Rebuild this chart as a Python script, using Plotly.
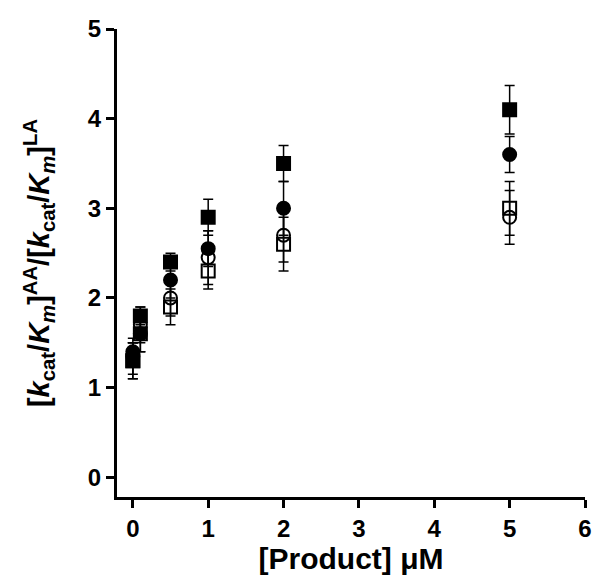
import plotly.graph_objects as go

# [Product] concentrations (uM)
product = [0, 0.1, 0.5, 1, 2, 5]

# four series
sq_filled = [1.3, 1.8, 2.4, 2.9, 3.5, 4.1]
sq_filled_err = [0.2, 0.1, 0.1, 0.2, 0.2, 0.27]
circ_filled = [1.4, 1.6, 2.2, 2.55, 3.0, 3.6]
circ_filled_err = [0.1, 0.2, 0.2, 0.2, 0.3, 0.2]
circ_open = [1.35, 1.7, 2.0, 2.45, 2.7, 2.9]
circ_open_err = [0.2, 0.2, 0.2, 0.3, 0.3, 0.3]
sq_open = [1.3, 1.6, 1.9, 2.3, 2.6, 3.0]
sq_open_err = [0.2, 0.2, 0.2, 0.2, 0.3, 0.3]

x_ticks = [0, 1, 2, 3, 4, 5, 6]
y_ticks = [0, 1, 2, 3, 4, 5]

FONT = "Liberation Sans"

series = [
    (sq_open, sq_open_err, "square-open"),
    (circ_open, circ_open_err, "circle-open"),
    (circ_filled, circ_filled_err, "circle"),
    (sq_filled, sq_filled_err, "square"),
]

fig = go.Figure()
for vals, err, sym in series:
    fig.add_trace(go.Scatter(
        x=product, y=vals, mode="markers",
        marker=dict(symbol=sym, size=13, color="black",
                    line=dict(color="black", width=2)),
        error_y=dict(type="data", array=err, color="black",
                     thickness=1.5, width=5),
        showlegend=False, cliponaxis=False,
    ))

ytitle = ("[<i>k</i><sub>cat</sub>/<i>K</i><sub><i>m</i></sub>]<sup>AA</sup>"
          "/[<i>k</i><sub>cat</sub>/<i>K</i><sub><i>m</i></sub>]<sup>LA</sup>")

# page body adds an 8px offset, so the figure is a bit smaller than the window
fig.update_layout(
    width=592, height=575,
    margin=dict(l=109, r=15, t=21, b=86),
    plot_bgcolor="white", paper_bgcolor="white",
    font=dict(family=FONT, color="black", size=24, weight="bold"),
    xaxis=dict(
        range=[-0.21, 6], tickvals=x_ticks, showgrid=False, zeroline=False,
        showline=True, linecolor="black", linewidth=3, automargin=False,
        ticks="outside", ticklen=8, tickwidth=2.5, tickcolor="black",
        tickfont=dict(family=FONT, size=24, weight="bold"),
        title=dict(text="[Product] μM", font=dict(size=30, weight="bold"),
                   standoff=6),
    ),
    yaxis=dict(
        range=[-0.22, 5], tickvals=y_ticks, showgrid=False, zeroline=False,
        showline=True, linecolor="black", linewidth=3, automargin=False,
        ticks="outside", ticklen=8, tickwidth=2.5, tickcolor="black",
        tickfont=dict(family=FONT, size=24, weight="bold"),
        title=dict(text=ytitle, font=dict(size=29, weight="bold"),
                   standoff=30),
    ),
)

fig.write_html("out.html")
